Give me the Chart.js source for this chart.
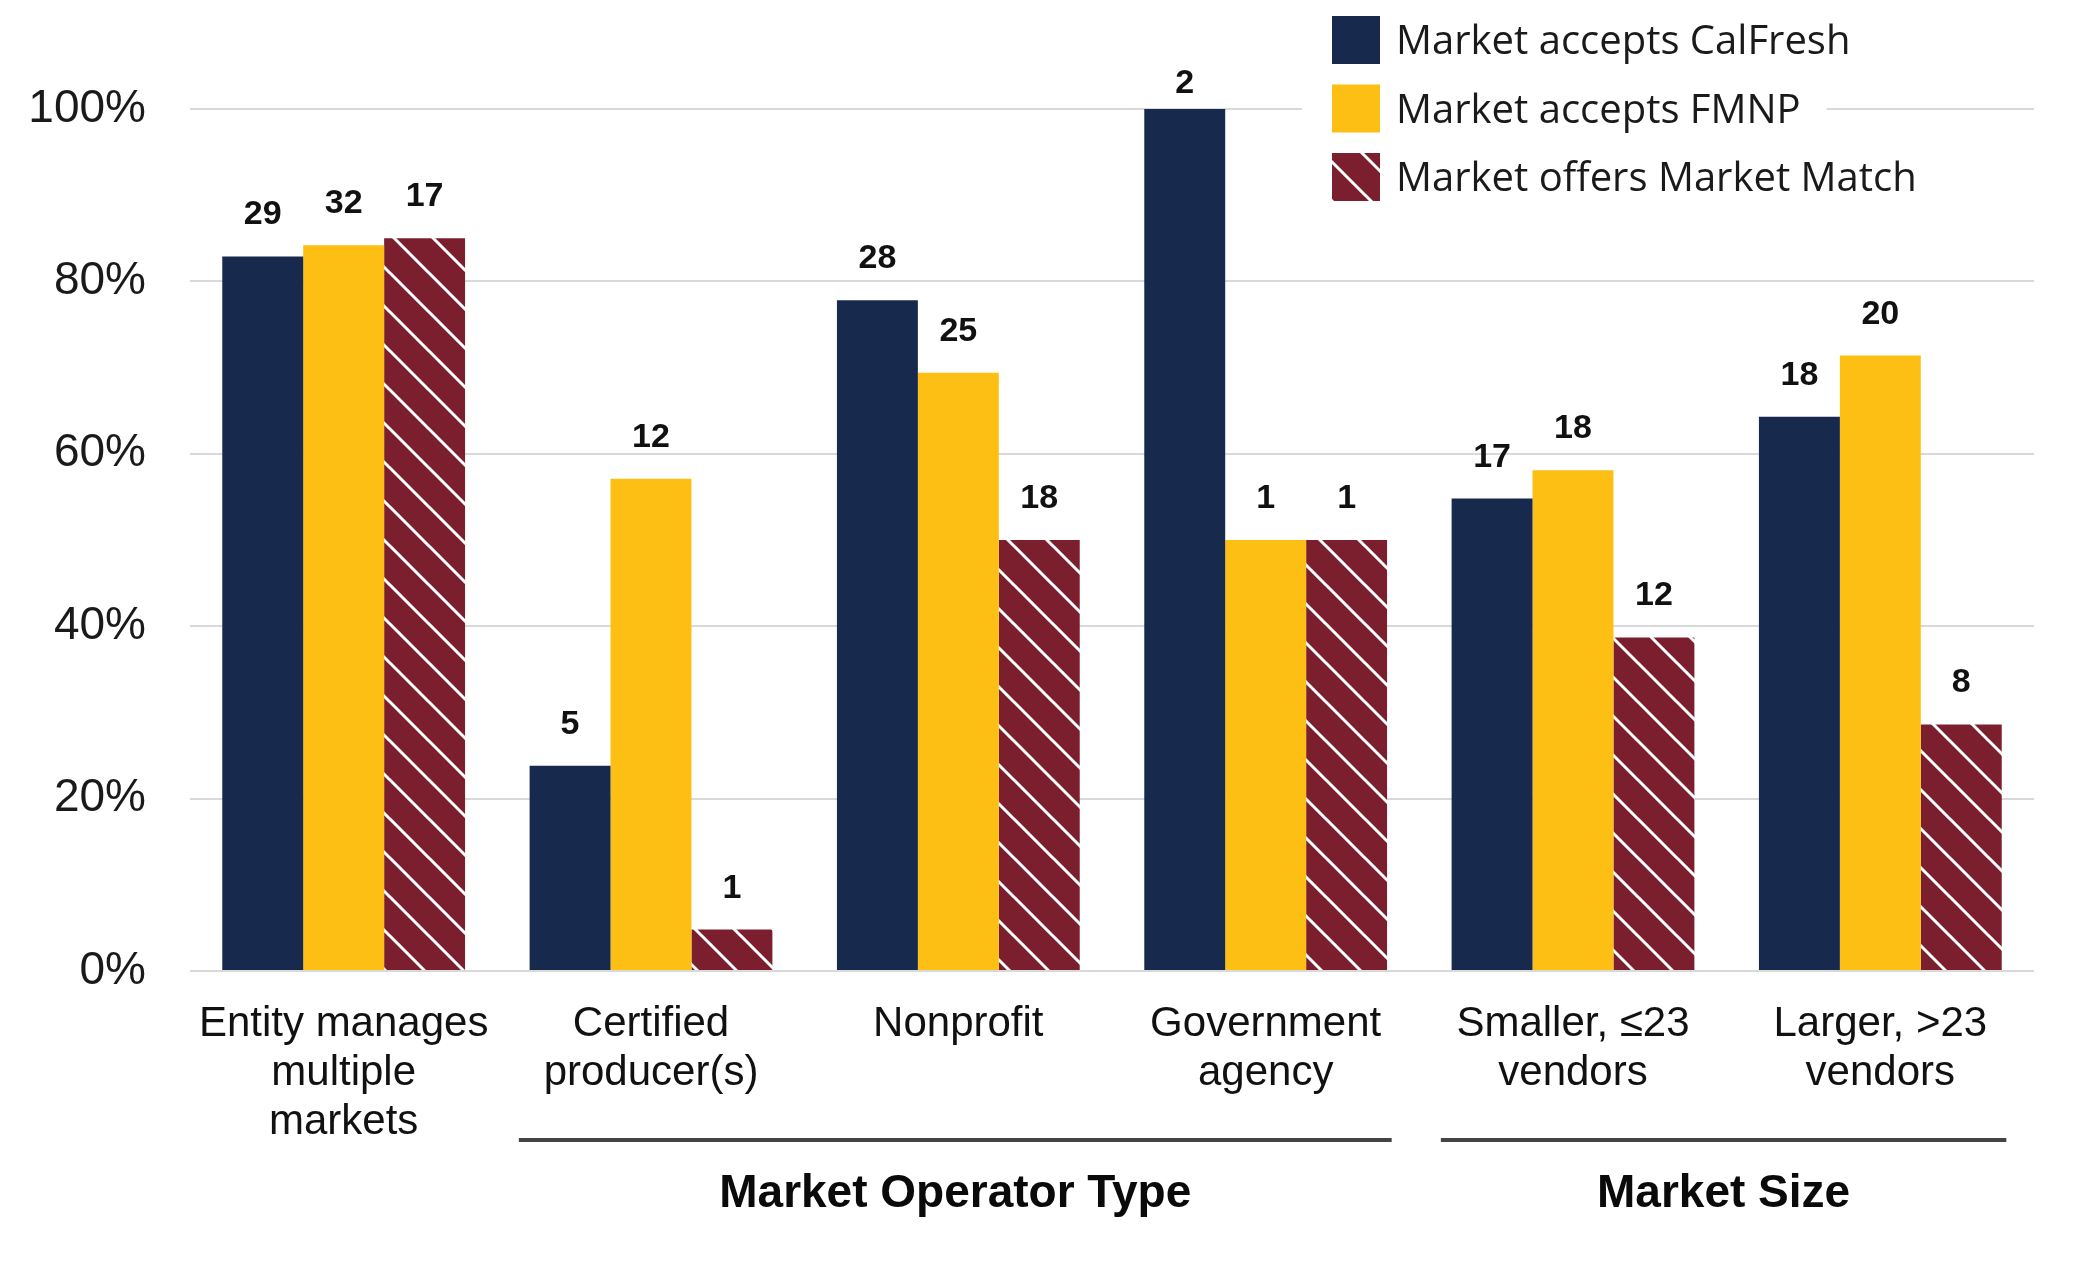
<!DOCTYPE html>
<html lang="en">

<head>
  <meta charset="UTF-8" />
  <title>Market acceptance by operator type and size</title>
  <script src="https://cdn.jsdelivr.net/npm/chart.js@4.4.1/dist/chart.umd.min.js"></script>
  <style>
    body {
      margin: 0;
      background: #fff;
    }

    .chart-wrapper {
      width: 2085px;
      height: 1275px;
      position: relative;
    }

    canvas {
      display: block;
    }
  </style>
</head>

<body>
  <div class="chart-wrapper">
    <canvas id="markets"></canvas>
  </div>
  <script>
    // categories on the x axis (multi-line labels)
    const categories = [
      ["Entity manages", "multiple", "markets"],
      ["Certified", "producer(s)"],
      ["Nonprofit"],
      ["Government", "agency"],
      ["Smaller, \u226423", "vendors"],
      ["Larger, >23", "vendors"]
    ];
    const seriesNames = ["Market accepts CalFresh", "Market accepts FMNP", "Market offers Market Match"];

    // share of markets (%)
    const calfreshPct = [82.9, 23.8, 77.8, 100, 54.8, 64.3];
    const fmnpPct = [84.2, 57.1, 69.4, 50, 58.1, 71.4];
    const matchPct = [85.0, 4.8, 50.0, 50.0, 38.7, 28.6];

    // counts printed above the bars
    const calfreshN = [29, 5, 28, 2, 17, 18];
    const fmnpN = [32, 12, 25, 1, 18, 20];
    const matchN = [17, 1, 18, 1, 12, 8];

    const yTicks = [0, 20, 40, 60, 80, 100];

    // brackets under the axis: name and first/last category index
    const groupNames = ["Market Operator Type", "Market Size"];
    const groupSpans = [[1, 3], [4, 5]];

    const NAVY = "#172a4e";
    const GOLD = "#fdbf14";
    const MAROON = "#7b1f2e";
    const FONT = "'Liberation Sans', Arial, Helvetica, sans-serif";

    function hatch(bg, fg) {
      const s = 39;
      const c = document.createElement("canvas");
      c.width = s;
      c.height = s;
      const g = c.getContext("2d");
      g.fillStyle = bg;
      g.fillRect(0, 0, s, s);
      g.strokeStyle = fg;
      g.lineWidth = 3;
      g.beginPath();
      [-s, 0, s].forEach(o => {
        g.moveTo(o - 2, -2);
        g.lineTo(o + s + 2, s + 2);
      });
      g.stroke();
      return g.createPattern(c, "repeat");
    }
    const matchFill = hatch(MAROON, "#ffffff");

    const counts = [calfreshN, fmnpN, matchN];

    const valueLabels = {
      id: "valueLabels",
      afterDatasetsDraw(chart) {
        const ctx = chart.ctx;
        ctx.save();
        ctx.font = "bold 34px " + FONT;
        ctx.fillStyle = "#111";
        ctx.textAlign = "center";
        ctx.textBaseline = "alphabetic";
        chart.data.datasets.forEach((ds, i) => {
          chart.getDatasetMeta(i).data.forEach((bar, j) => {
            // the topmost label sits a little lower, as in the source
            const y = Math.max(bar.y - 32, 93);
            ctx.fillText(String(counts[i][j]), bar.x, y);
          });
        });
        ctx.restore();
      }
    };

    const groupBrackets = {
      id: "groupBrackets",
      afterDraw(chart) {
        const ctx = chart.ctx;
        const x = chart.scales.x;
        const cat = x.width / categories.length;
        ctx.save();
        groupSpans.forEach((span, i) => {
          const left = x.getPixelForValue(span[0]) - cat * 0.43;
          const right = x.getPixelForValue(span[1]) + cat * 0.41;
          ctx.strokeStyle = "#444";
          ctx.lineWidth = 4;
          ctx.beginPath();
          ctx.moveTo(left, 1140);
          ctx.lineTo(right, 1140);
          ctx.stroke();
          ctx.font = "bold 46px " + FONT;
          ctx.fillStyle = "#0a0a0a";
          ctx.textAlign = "center";
          ctx.textBaseline = "alphabetic";
          ctx.fillText(groupNames[i], (left + right) / 2, 1207);
        });
        ctx.restore();
      }
    };

    const boxLegend = {
      id: "boxLegend",
      afterDraw(chart) {
        const ctx = chart.ctx;
        const left = 1332, top = 16, box = 48, step = 68.5;
        ctx.save();
        ctx.font = "40px 'Open Sans', sans-serif";
        ctx.textBaseline = "middle";
        chart.data.datasets.forEach((ds, i) => {
          const cy = top + box / 2 + i * step;
          const w = ctx.measureText(ds.label).width;
          ctx.fillStyle = "#fff";
          ctx.fillRect(left - 30, cy - step / 2, box + 16 + w + 30 + 26, step);
          ctx.fillStyle = ds.backgroundColor;
          ctx.fillRect(left, cy - box / 2, box, box);
          ctx.fillStyle = "#1a1a1a";
          ctx.fillText(ds.label, left + box + 16, cy + 3);
        });
        ctx.restore();
      }
    };

    new Chart(document.getElementById("markets"), {
      type: "bar",
      data: {
        labels: categories,
        datasets: [
          { label: seriesNames[0], data: calfreshPct, backgroundColor: NAVY },
          { label: seriesNames[1], data: fmnpPct, backgroundColor: GOLD },
          { label: seriesNames[2], data: matchPct, backgroundColor: matchFill }
        ]
      },
      options: {
        responsive: true,
        maintainAspectRatio: false,
        animation: false,
        categoryPercentage: 0.79,
        barPercentage: 1.0,
        layout: {
          padding: { top: 109, right: 51, bottom: 0, left: 0 }
        },
        plugins: {
          legend: { display: false },
          tooltip: { enabled: false }
        },
        scales: {
          x: {
            grid: { display: false },
            border: { display: false },
            ticks: {
              color: "#111",
              padding: 21,
              maxRotation: 0,
              autoSkip: false,
              font: { family: FONT, size: 42, lineHeight: 1.17 }
            },
            afterFit(scale) { scale.height = 304; }
          },
          y: {
            min: 0,
            max: 100,
            afterBuildTicks(scale) { scale.ticks = yTicks.map(v => ({ value: v })); },
            grid: { color: "#d9d9d9", lineWidth: 2, drawTicks: false },
            border: { display: false },
            ticks: {
              color: "#1a1a1a",
              padding: 44,
              font: { family: FONT, size: 46 },
              callback: v => v + "%"
            },
            afterFit(scale) { scale.width = 190; }
          }
        }
      },
      plugins: [valueLabels, groupBrackets, boxLegend]
    });
  </script>
</body>

</html>
